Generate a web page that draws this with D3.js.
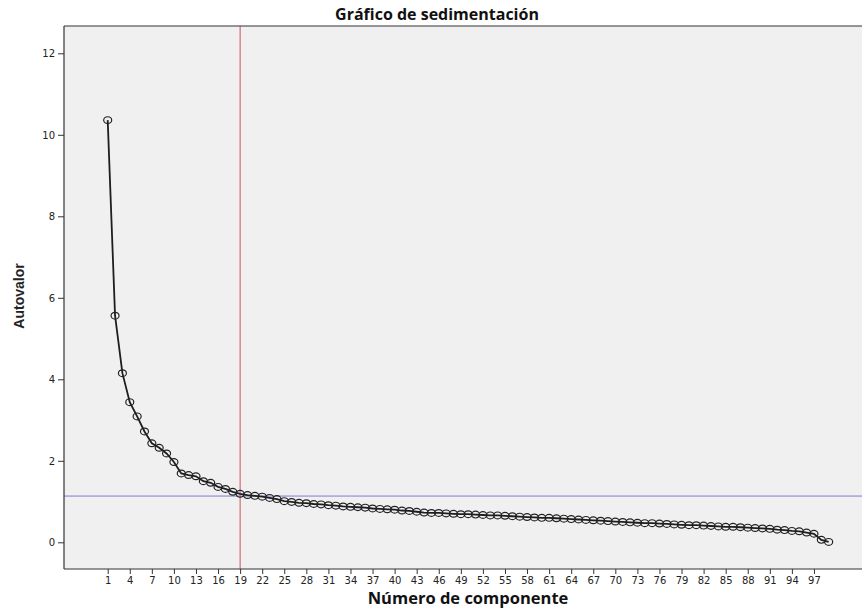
<!DOCTYPE html>
<html>
<head>
<meta charset="utf-8">
<script src="https://cdn.jsdelivr.net/npm/d3@7"></script>
<style>
  html, body { margin: 0; padding: 0; background: #ffffff; }
  svg { display: block; }
</style>
</head>
<body>
<svg id="chart" width="862" height="608"></svg>
<script>
// ---- Data ----
const title = "Gráfico de sedimentación";
const xLabel = "Número de componente";
const yLabel = "Autovalor";
const components = d3.range(1, 100);
const eigenvalues = [
  10.36, 5.56, 4.15, 3.44, 3.09, 2.72, 2.43, 2.32, 2.18, 1.97,
  1.69, 1.65, 1.62, 1.50, 1.46, 1.36, 1.31, 1.24, 1.19, 1.16,
  1.14, 1.12, 1.09, 1.06, 1.01, 0.99, 0.97, 0.96, 0.94, 0.93,
  0.91, 0.90, 0.88, 0.87, 0.86, 0.85, 0.83, 0.82, 0.81, 0.80,
  0.78, 0.77, 0.75, 0.73, 0.72, 0.72, 0.71, 0.70, 0.69, 0.69,
  0.68, 0.67, 0.66, 0.66, 0.65, 0.64, 0.63, 0.62, 0.61, 0.60,
  0.60, 0.59, 0.58, 0.57, 0.56, 0.55, 0.54, 0.53, 0.52, 0.51,
  0.50, 0.49, 0.48, 0.47, 0.47, 0.46, 0.45, 0.44, 0.43, 0.42,
  0.42, 0.41, 0.40, 0.39, 0.38, 0.38, 0.37, 0.36, 0.35, 0.34,
  0.33, 0.31, 0.30, 0.28, 0.27, 0.24, 0.21, 0.06, 0.01
];
const xTicks = d3.range(1, 98, 3);       // 1, 4, 7, ... 97
const yTicks = [0, 2, 4, 6, 8, 10, 12];
const refComponent = 19;                   // vertical reference line
const refEigenvalue = 1.135;               // horizontal reference line

// ---- Layout ----
const svg = d3.select("#chart");
const L = 64, R = 862, T = 26, B = 569;

const x = d3.scaleLinear().domain([-4.94, 103.53]).range([L, R]);
const y = d3.scaleLinear().domain([-0.655, 12.67]).range([B, T]);

// plot background
svg.append("rect")
  .attr("x", L).attr("y", T)
  .attr("width", R - L).attr("height", B - T)
  .attr("fill", "#f0f0f0");

// reference lines
svg.append("line")
  .attr("x1", x(refComponent)).attr("x2", x(refComponent))
  .attr("y1", T).attr("y2", B)
  .attr("stroke", "#d2505c").attr("stroke-width", 1);
svg.append("line")
  .attr("x1", L).attr("x2", R)
  .attr("y1", y(refEigenvalue)).attr("y2", y(refEigenvalue))
  .attr("stroke", "#7b7bd8").attr("stroke-width", 1);

// axes
const tickFont = "'DejaVu Sans', sans-serif";
const yAxis = d3.axisLeft(y).tickValues(yTicks).tickSize(6).tickPadding(3).tickFormat(d3.format("d"));
const gy = svg.append("g").attr("transform", `translate(${L},0)`).call(yAxis);
gy.select(".domain").remove();
gy.selectAll("line").attr("stroke", "#333");
gy.selectAll("text").attr("font-family", tickFont).attr("font-size", 10).attr("fill", "#222");

const xAxis = d3.axisBottom(x).tickValues(xTicks).tickSize(5).tickPadding(3).tickFormat(d3.format("d"));
const gx = svg.append("g").attr("transform", `translate(0,${B})`).call(xAxis);
gx.select(".domain").remove();
gx.selectAll("line").attr("stroke", "#333");
gx.selectAll("text").attr("font-family", tickFont).attr("font-size", 10).attr("fill", "#222");

// frame lines: left, top, bottom
svg.append("line").attr("x1", L).attr("x2", L).attr("y1", T).attr("y2", B).attr("stroke", "#333").attr("stroke-width", 1.2);
svg.append("line").attr("x1", L).attr("x2", R).attr("y1", T).attr("y2", T).attr("stroke", "#333").attr("stroke-width", 1.2);
svg.append("line").attr("x1", L).attr("x2", R).attr("y1", B).attr("y2", B).attr("stroke", "#333").attr("stroke-width", 1.2);

// line
const data = components.map((c, i) => ({c, v: eigenvalues[i]}));
svg.append("path")
  .datum(data)
  .attr("fill", "none")
  .attr("stroke", "#1e1e1e")
  .attr("stroke-width", 1.8)
  .attr("d", d3.line().x(d => x(d.c)).y(d => y(d.v)));

// markers
svg.append("g").selectAll("ellipse")
  .data(data)
  .join("ellipse")
  .attr("cx", d => x(d.c))
  .attr("cy", d => y(d.v))
  .attr("rx", 4)
  .attr("ry", 3.4)
  .attr("fill", "none")
  .attr("stroke", "#222")
  .attr("stroke-width", 1.2);

// title
svg.append("text")
  .attr("x", 437).attr("y", 20)
  .attr("text-anchor", "middle")
  .attr("font-family", "'Open Sans', sans-serif")
  .attr("font-weight", "bold")
  .attr("font-size", 16)
  .attr("fill", "#111")
  .text(title);

// x label
svg.append("text")
  .attr("x", 468).attr("y", 604)
  .attr("text-anchor", "middle")
  .attr("font-family", "'Open Sans', sans-serif")
  .attr("font-weight", "bold")
  .attr("font-size", 16.5)
  .attr("fill", "#111")
  .text(xLabel);

// y label
svg.append("text")
  .attr("transform", "translate(24,296) rotate(-90)")
  .attr("text-anchor", "middle")
  .attr("font-family", "'Liberation Sans Narrow', 'Arial Narrow', sans-serif")
  .attr("font-stretch", "condensed")
  .attr("font-weight", "bold")
  .attr("font-size", 14)
  .attr("fill", "#222")
  .text(yLabel);
</script>
</body>
</html>
